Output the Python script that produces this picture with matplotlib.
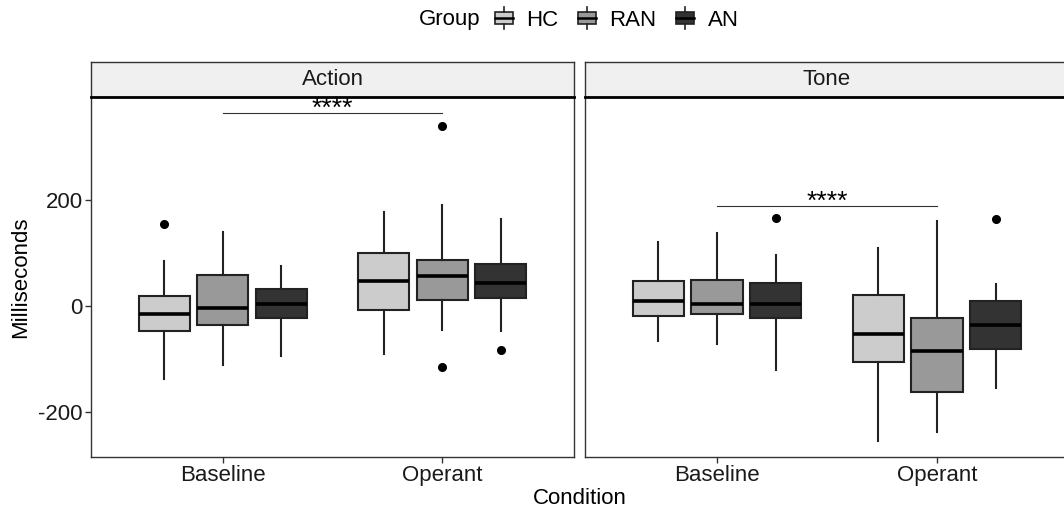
import matplotlib
matplotlib.use("Agg")
import matplotlib.pyplot as plt
from matplotlib.patches import Rectangle
from matplotlib.lines import Line2D
from matplotlib.legend_handler import HandlerBase

plt.rcParams['font.family'] = ['Liberation Sans', 'DejaVu Sans']

groups = ['HC', 'RAN', 'AN']
conditions = ['Baseline', 'Operant']
group_colors = ['#cccccc', '#999999', '#333333']

# order: Baseline HC, RAN, AN, Operant HC, RAN, AN
action_whislo = [-139, -112, -95, -92, -46, -48]
action_q1 = [-47, -37, -23, -8, 11, 15]
action_med = [-16, -4, 4, 47, 56, 43]
action_q3 = [18, 58, 32, 99, 86, 78]
action_whishi = [85, 139, 74, 176, 190, 163]
action_fliers = [[154], [], [], [], [340, -116], [-84]]

tone_whislo = [-66, -73, -121, -256, -238, -156]
tone_q1 = [-20, -16, -23, -106, -163, -81]
tone_med = [8, 4, 3, -53, -85, -37]
tone_q3 = [47, 49, 43, 21, -23, 8]
tone_whishi = [120, 137, 96, 108, 159, 40]
tone_fliers = [[], [], [165], [], [], [164]]

sig_y = {'Action': 363, 'Tone': 188}
sig_label = '****'

panels = {
    'Action': (action_whislo, action_q1, action_med, action_q3, action_whishi, action_fliers),
    'Tone': (tone_whislo, tone_q1, tone_med, tone_q3, tone_whishi, tone_fliers),
}

W, H = 1064, 514
fig = plt.figure(figsize=(W / 100, H / 100), dpi=100)

edge = '#222222'
dodge = 0.267
bw = 0.233
fs = 16


def px(x0, y0, x1, y1):
    # pixel box (top-left origin) -> figure fraction rect
    return [x0 / W, 1 - y1 / H, (x1 - x0) / W, (y1 - y0) / H]


panel_px = {'Action': (91, 574), 'Tone': (585, 1069)}

for name, (wlo, q1, med, q3, whi, fl) in panels.items():
    xl, xr = panel_px[name]

    # facet strip (added first so the panel sits on top of it)
    sx = fig.add_axes(px(xl, 62, xr, 97))
    sx.set_facecolor('#f0f0f0')
    sx.set_xticks([])
    sx.set_yticks([])
    for s in sx.spines.values():
        s.set_color('#333333')
        s.set_linewidth(1.0)
    sx.text(0.5, 0.5, name, ha='center', va='center', fontsize=fs,
            color='#1a1a1a', transform=sx.transAxes)

    ax = fig.add_axes(px(xl, 97, xr, 457))
    stats = []
    positions = []
    colors = []
    for i in range(6):
        c = i // 3
        g = i % 3
        stats.append({'whislo': wlo[i], 'q1': q1[i], 'med': med[i], 'q3': q3[i],
                      'whishi': whi[i], 'fliers': fl[i]})
        positions.append(c + 1 + (g - 1) * dodge)
        colors.append(group_colors[g])
    bp = ax.bxp(stats, positions=positions, widths=bw, patch_artist=True,
                showcaps=False,
                boxprops=dict(edgecolor=edge, linewidth=1.5),
                whiskerprops=dict(color=edge, linewidth=1.5),
                medianprops=dict(color='black', linewidth=2.6),
                flierprops=dict(marker='o', markerfacecolor='black',
                                markeredgecolor='black', markersize=5.5))
    for patch, col in zip(bp['boxes'], colors):
        patch.set_facecolor(col)

    # significance bar between RAN boxes
    x_a = 1
    x_b = 2
    ax.plot([x_a, x_b], [sig_y[name], sig_y[name]], color='#333333', lw=0.8)
    ax.text((x_a + x_b) / 2, sig_y[name] - 15, sig_label, ha='center', va='bottom',
            fontsize=19, color='black', clip_on=False)

    ax.set_xlim(0.4, 2.6)
    ax.set_ylim(-285.5, 393.8)
    ax.set_xticks([1, 2])
    ax.set_xticklabels(conditions, fontsize=fs, color='#1a1a1a')
    ax.set_yticks([-200, 0, 200])
    ax.tick_params(axis='both', length=4, width=1, color='#333333', pad=2)
    if name == 'Action':
        ax.set_yticklabels(['-200', '0', '200'], fontsize=fs, color='#1a1a1a')
    else:
        ax.tick_params(axis='y', left=False, labelleft=False)
    for s in ax.spines.values():
        s.set_color('#333333')
        s.set_linewidth(1.0)
    ax.spines['top'].set_color('black')
    ax.spines['top'].set_linewidth(2)

fig.text(580 / W, 1 - 499 / H, 'Condition', ha='center', va='center', fontsize=fs)
fig.text(21 / W, 1 - 277 / H, 'Milliseconds', ha='center', va='center',
         rotation=90, fontsize=fs)


class BoxKey(HandlerBase):
    def create_artists(self, legend, orig_handle, xdescent, ydescent,
                       width, height, fontsize, trans):
        fc = orig_handle.get_facecolor()
        cx = width / 2 - xdescent
        bh = height * 1.1
        y0 = (height - bh) / 2 - ydescent
        bwid = width
        rect = Rectangle((cx - bwid / 2, y0 + bh * 0.2), bwid, bh * 0.6,
                         facecolor=fc, edgecolor=edge, lw=1.2, transform=trans)
        medl = Line2D([cx - bwid / 2, cx + bwid / 2], [y0 + bh / 2] * 2,
                      color='black', lw=1.8, transform=trans)
        w1 = Line2D([cx, cx], [y0 - bh * 0.05, y0 + bh * 0.2], color=edge, lw=1.2,
                    transform=trans)
        w2 = Line2D([cx, cx], [y0 + bh * 0.8, y0 + bh * 1.05], color=edge, lw=1.2,
                    transform=trans)
        return [rect, medl, w1, w2]


handles = [Rectangle((0, 0), 1, 1, facecolor=c) for c in group_colors]
fig.text(450 / W, 1 - 20 / H, 'Group', ha='center', va='center', fontsize=fs)
fig.legend(handles, groups, loc='center left', bbox_to_anchor=(495 / W, 1 - 20 / H),
           ncol=3, frameon=False, fontsize=fs, handler_map={Rectangle: BoxKey()},
           handlelength=0.8, handleheight=0.9, handletextpad=0.6, columnspacing=0.9,
           borderpad=0, borderaxespad=0)

fig.savefig('out.png', dpi=100)
